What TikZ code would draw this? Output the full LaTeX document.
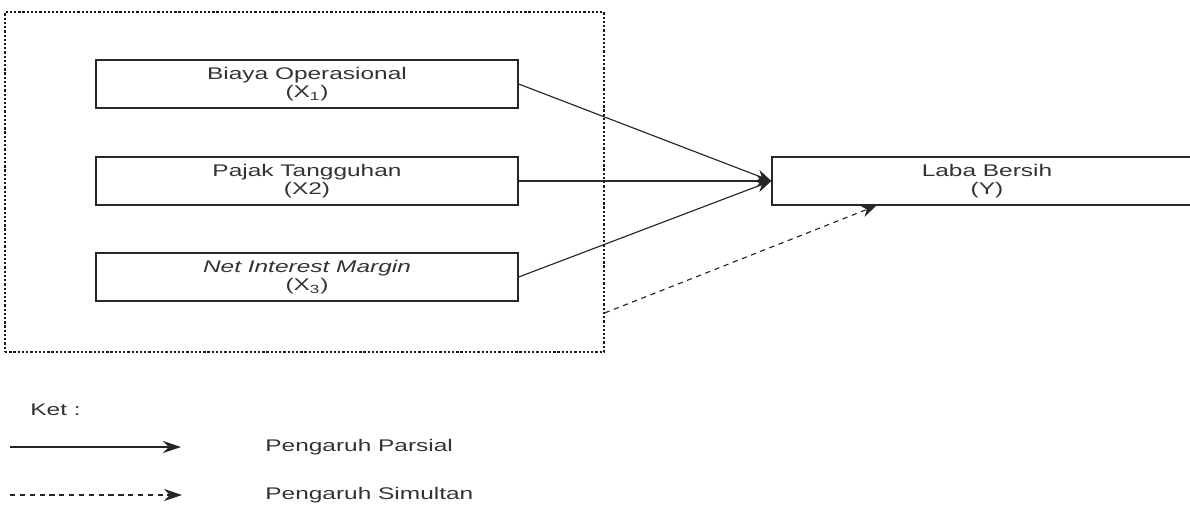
\documentclass[tikz,border=0pt]{standalone}
\usepackage{fontspec}
\setmainfont{Liberation Sans}[FakeStretch=1.45]
\usetikzlibrary{positioning,arrows.meta}

\begin{document}
\begin{tikzpicture}[x=0.02cm, y=-0.02cm,
    every node/.style={font=\fontsize{9.6}{10.6}\selectfont, text=black!80},
    var/.style={draw=black!85, line width=0.8pt, minimum width=8.44cm, minimum height=0.96cm, align=center, inner sep=0pt},
    grp/.style={draw=black!90, line width=0.8pt, dash pattern=on 1.3pt off 1.1pt, minimum width=11.98cm, minimum height=6.8cm, inner sep=0pt},
    arr/.style={-{Stealth[length=0.3cm, width=0.24cm]}, draw=black!85, line width=0.65pt},
    simarr/.style={arr, dash pattern=on 3pt off 2.6pt},
    legarr/.style={-{Stealth[length=0.36cm, width=0.24cm]}},
    lbl/.style={anchor=west, inner sep=0pt}]
    \useasboundingbox (0,0) rectangle (1190,504);
    \clip (0,0) rectangle (1190,504);

    % Group of independent variables
    \node[grp] (group) at (304.5,182) {};

    % Variables
    \node[var] (x1) at (307,84) {Biaya Operasional\\(X\textsubscript{1})};
    \node[var] (x2) at (307,181) {Pajak Tangguhan\\(X2)};
    \node[var] (x3) at (307,277) {\textit{Net Interest Margin}\\(X\textsubscript{3})};
    \node[var, minimum width=8.6cm] (y) at (987,181) {Laba Bersih\\(Y)};

    % Partial effects
    \foreach \i in {x1,x2,x3}{
        \draw[arr] (\i.east) -- (y.west);
    }

    % Simultaneous effect
    \coordinate (simstart) at ([yshift=-2.62cm]group.east);
    \coordinate (simend) at ([xshift=2.1cm]y.south west);
    \draw[simarr] (simstart) -- (simend);

    % Legend
    \node[lbl] (ket) at (30,410) {Ket :};
    \coordinate (pa) at (10,447);
    \coordinate (pb) at (181,447);
    \draw[arr, legarr] (pa) -- (pb);
    \node[lbl] (parsial) at (265,447) {Pengaruh Parsial};
    \coordinate (sa) at (10,495);
    \coordinate (sb) at (182,495);
    \draw[simarr, legarr] (sa) -- (sb);
    \node[lbl] (simultan) at (265,495) {Pengaruh Simultan};
\end{tikzpicture}
\end{document}
